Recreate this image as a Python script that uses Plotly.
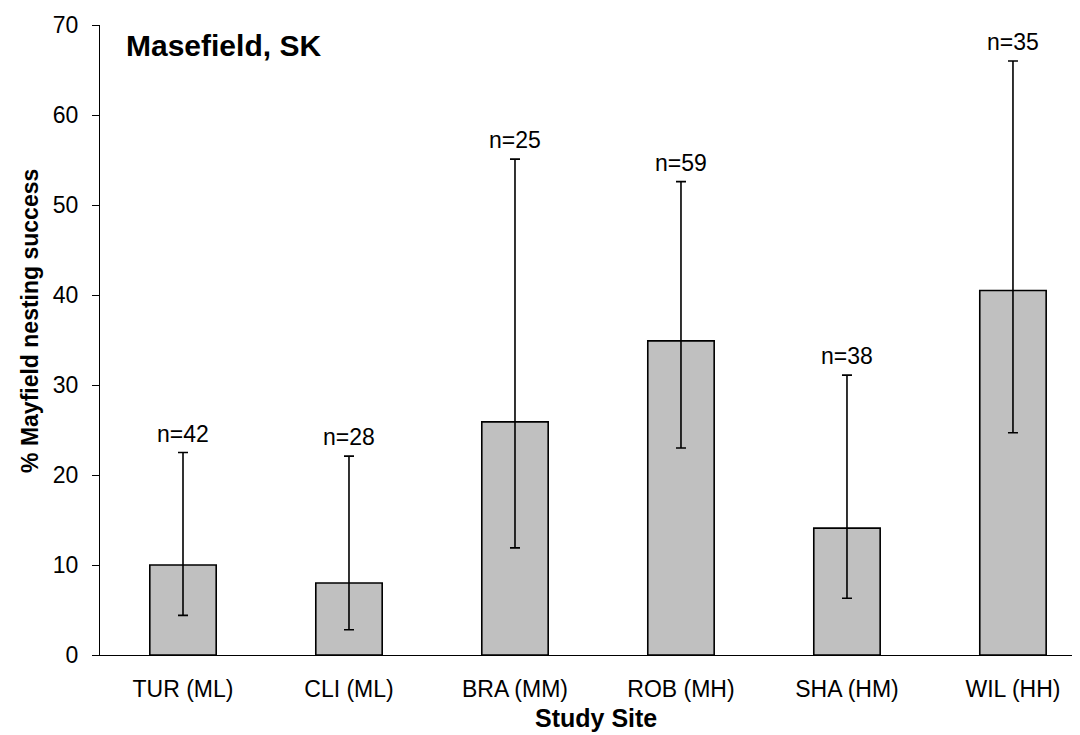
import plotly.graph_objects as go

sites = ["TUR (ML)", "CLI (ML)", "BRA (MM)", "ROB (MH)", "SHA (HM)", "WIL (HH)"]
success = [10.0, 8.0, 25.9, 34.9, 14.1, 40.5]
ci_low = [4.4, 2.8, 11.9, 23.0, 6.3, 24.7]
ci_high = [22.5, 22.1, 55.1, 52.6, 31.1, 66.0]
n_labels = ["n=42", "n=28", "n=25", "n=59", "n=38", "n=35"]
y_ticks = [0, 10, 20, 30, 40, 50, 60, 70]

FONT = "Liberation Sans, Arial, sans-serif"

fig = go.Figure()
fig.add_trace(go.Bar(
    x=list(range(len(sites))), y=success, width=0.4,
    marker=dict(color="#c0c0c0", line=dict(color="black", width=1.6)),
    error_y=dict(type="data", symmetric=False,
                 array=[h - v for h, v in zip(ci_high, success)],
                 arrayminus=[v - l for v, l in zip(success, ci_low)],
                 color="black", thickness=1.6, width=5),
    showlegend=False,
))

for i, (h, t) in enumerate(zip(ci_high, n_labels)):
    fig.add_annotation(x=i, y=h, text=t, showarrow=False, xanchor="center",
                       yanchor="bottom", yshift=4,
                       font=dict(family=FONT, size=23, color="black"))

fig.add_annotation(xref="paper", yref="paper", x=0.024, y=0.967, text="<b>Masefield, SK</b>",
                   showarrow=False, xanchor="left", yanchor="middle",
                   font=dict(family=FONT, size=30, color="black"))

fig.add_annotation(xref="paper", yref="paper", x=-0.071, y=0.53,
                   text="<b>% Mayfield nesting success</b>", textangle=-90,
                   showarrow=False, xanchor="center", yanchor="middle",
                   font=dict(family=FONT, size=23, color="black"))

fig.add_annotation(xref="paper", yref="paper", x=0.502, y=-0.1,
                   text="<b>Study Site</b>",
                   showarrow=False, xanchor="center", yanchor="middle",
                   font=dict(family=FONT, size=25, color="black"))

fig.update_layout(
    width=1080, height=735,
    margin=dict(l=92, r=0, t=17, b=88),
    paper_bgcolor="white", plot_bgcolor="white",
    font=dict(family=FONT, size=23, color="black"),
)
fig.update_xaxes(
    range=[-0.5, 5.452], tickvals=list(range(len(sites))), ticktext=sites,
    showline=True, linecolor="black", linewidth=1, ticks="", showgrid=False,
    zeroline=False, ticklabelstandoff=13,
    tickfont=dict(family=FONT, size=23, color="black"),
)
fig.update_yaxes(
    range=[0, 70], tickvals=y_ticks, showline=True, linecolor="black", linewidth=1,
    ticks="outside", ticklen=7, tickcolor="black", showgrid=False, zeroline=False,
    ticklabelstandoff=9,
    tickfont=dict(family=FONT, size=23, color="black"),
)

fig.write_html("out.html")
